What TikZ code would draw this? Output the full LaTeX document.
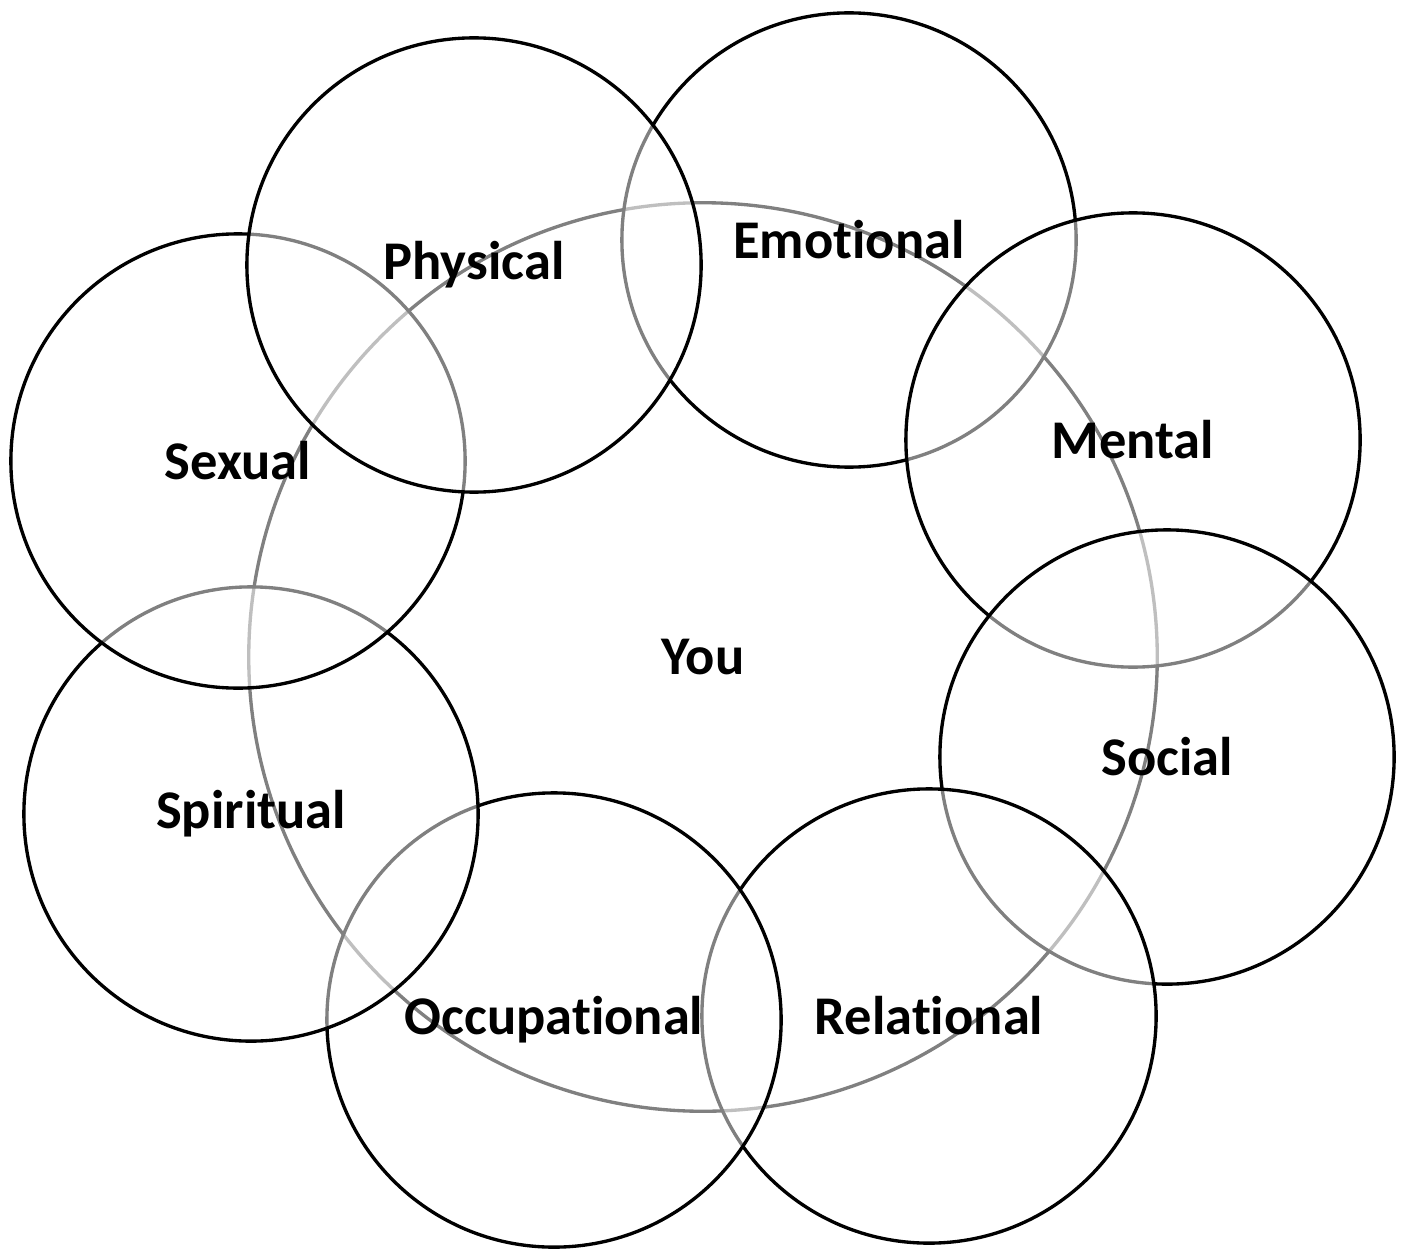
\documentclass[tikz,border=0pt]{standalone}
\usepackage{fontspec}
\setmainfont[Ligatures=NoCommon]{Carlito}
\usepackage{tikz}
\definecolor{ringgray}{RGB}{0,0,0}

\begin{document}
\begin{tikzpicture}[x=0.01cm,y=-0.01cm,
  ring/.style={circle,draw=ringgray,line width=0.95pt,fill=white,fill opacity=0.5,text opacity=1,
    minimum size=4.54cm,inner sep=0pt,font=\fontsize{15.5}{18}\selectfont\bfseries},
  hub/.style={ring,minimum size=9.08cm,fill opacity=1}]
\useasboundingbox (0,0) rectangle (1404,1249);
\node[hub] (you) at (703,657) {You};
\foreach \nm/\txt/\px/\py in {emotional/Emotional/849/240,mental/Mental/1133/440,social/Social/1167/757,relational/Relational/929/1016,occupational/Occupational/554/1020,spiritual/Spiritual/251/814,sexual/Sexual/238/461,physical/Physical/474/265}
  \node[ring] (\nm) at (\px,\py) {\txt};
\end{tikzpicture}
\end{document}
